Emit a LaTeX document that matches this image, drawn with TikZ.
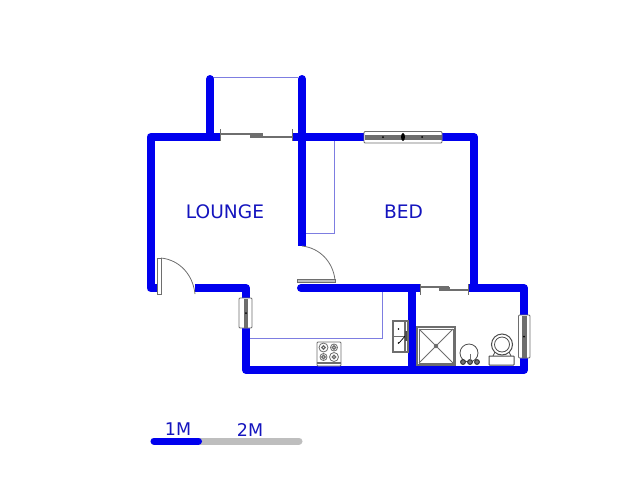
\documentclass[tikz,border=0pt]{standalone}
\usepackage{fontspec}
\setmainfont{DejaVu Sans}
\definecolor{wallblue}{RGB}{0,0,238}
\definecolor{inkblue}{RGB}{20,20,190}
\definecolor{thinblue}{RGB}{125,125,225}
\definecolor{fitgrey}{RGB}{110,110,110}
\definecolor{bargrey}{RGB}{190,190,190}
\begin{document}
\begin{tikzpicture}[x=1pt, y=-1pt,
    wall/.style={draw=wallblue, line width=8pt, line cap=round, line join=round},
    thin/.style={draw=thinblue, line width=0.8pt},
    fit/.style={draw=fitgrey, line width=0.8pt},
    label/.style={text=inkblue, font=\fontsize{18.6}{20}\selectfont, inner sep=0pt},
    barlabel/.style={text=inkblue, font=\fontsize{17.5}{20}\selectfont, inner sep=0pt}]
      \useasboundingbox (0, 0) rectangle (640, 480);

      % thin lines under the walls
      \draw [thin] (213, 77) -- (298, 77);
      \draw [thin] (334, 141) -- (334, 233) -- (306, 233);
      \draw [thin] (250, 338) -- (382, 338) -- (382, 292);

      % walls
      \draw [wall] (210, 79) -- (210, 137);
      \draw [wall, line cap=butt] (158, 288) -- (150.5, 288) -- (150.5, 137) -- (220, 137);
      \draw [wall, line cap=butt] (292, 137) -- (364, 137);
      \draw [wall, line cap=butt] (442, 137) -- (474, 137) -- (474, 288);
      \draw [wall] (302, 79) -- (302, 137);
      \draw [wall, line cap=butt] (302, 137) -- (302, 246);
      \draw [wall, line cap=butt] (195, 288) -- (246, 288) -- (246, 298);
      \draw [wall] (301, 288) -- (340, 288);
      \draw [wall, line cap=butt] (340, 288) -- (420, 288);
      \draw [wall, line cap=butt] (412, 288) -- (412, 370);
      \draw [wall, line cap=butt] (468, 288) -- (524, 288) -- (524, 316);
      \draw [wall, line cap=butt] (246, 328) -- (246, 370) -- (524, 370) -- (524, 358);

      % sliding doors
      \draw [fit, line width=2pt] (220, 134) -- (262, 134);
      \draw [fit, line width=2pt] (250, 137) -- (292, 137);
      \draw [fit, fill=fitgrey] (250, 133.5) rectangle (262, 137.5);
      \draw [fit] (220, 129) -- (220, 141);
      \draw [fit] (292, 129) -- (292, 141);
      \draw [fit, line width=2pt] (420, 287) -- (449, 287);
      \draw [fit, line width=2pt] (439, 290) -- (468, 290);
      \draw [fit, fill=fitgrey] (439, 287) rectangle (449, 290);
      \draw [fit] (420, 284) -- (420, 295);
      \draw [fit] (468, 284) -- (468, 295);

      % swing doors
      \draw [fit, fill=white] (157, 258) rectangle (161, 294);
      \draw [fit] (161, 258) .. controls (180, 260) and (193, 275) .. (195, 294);
      \draw [fit, fill=bargrey] (297, 279.5) rectangle (335, 282.5);
      \draw [fit] (302, 246) .. controls (320, 248) and (333, 262) .. (335, 280);

      % windows
      \draw [fit, fill=white, rounded corners=1pt] (364, 131.5) rectangle (442, 143);
      \fill [fitgrey] (364.5, 135) rectangle (441.5, 139.5);
      \fill (403, 137) ellipse (2 and 4);
      \fill (383, 137) circle (1);
      \fill (422, 137) circle (1);
      \draw [fit, fill=white, rounded corners=1pt] (239, 298) rectangle (252, 328);
      \fill [fitgrey] (243.5, 298.5) rectangle (248, 327.5);
      \fill (246, 313) circle (1);
      \draw [fit, fill=white, rounded corners=1pt] (518.5, 315) rectangle (530, 358);
      \fill [fitgrey] (522, 315.5) rectangle (526.5, 357.5);
      \fill (524, 336.5) circle (1);

      % stove
      \draw [fit, fill=white, rounded corners=1pt] (317, 342) rectangle (341, 366);
      \draw [fit, line width=1.2pt] (317, 363) -- (341, 363);
      \foreach \bx/\by/\br in {323.5/347.5/4.5, 334/347.5/3.5, 323.5/357/3.5, 334/357/4.5} {
        \draw [fit] (\bx, \by) circle (\br);
        \draw [fit, line width=1.2pt] (\bx, \by) circle (1.8);
      }

      % sink
      \draw [fit, line width=1.1pt, fill=white] (393, 321) rectangle (408, 352);
      \draw [fit, line width=1.1pt] (393, 336.5) -- (405, 336.5);
      \draw [fit, line width=1.1pt] (405, 321) -- (405, 352);
      \fill (398.5, 329) circle (0.9);
      \fill (398.5, 343) circle (0.9);
      \draw [line width=0.7pt] (399, 343) -- (406, 335);
      \fill [black!70] (404.5, 331) rectangle (407, 341);

      % shower
      \draw [fit, line width=1.2pt] (417, 327) rectangle (455, 365);
      \draw [fit] (419, 329) rectangle (453, 363);
      \draw [fit] (419, 329) -- (453, 363);
      \draw [fit] (453, 329) -- (419, 363);
      \draw [fit, fill=black!60] (436, 346) circle (1.8);

      % basin
      \draw [fit, draw=black!70] (469, 353) circle (9);
      \foreach \tx in {463, 470, 477} {
        \draw [fit, draw=black!80, fill=black!55, line width=1pt] (\tx, 362) circle (2.4);
      }
      \draw [fit] (470, 354) -- (470, 360);

      % toilet
      \draw [fit, draw=black!70, line width=1pt] (502, 344.5) circle (10.5);
      \draw [fit, draw=black!70] (502, 344.5) circle (7.5);
      \draw [fit, draw=black!70] (495, 352) -- (493, 356);
      \draw [fit, draw=black!70] (509, 352) -- (511, 356);
      \draw [fit, draw=black!70, fill=white, rounded corners=0.5pt, line width=1pt] (489, 356) rectangle (514, 365);

      % scale bar
      \draw [line width=7pt, line cap=round, draw=bargrey] (154, 441) -- (299, 441);
      \draw [line width=7pt, line cap=round, draw=wallblue] (154, 441) -- (198.5, 441);

      \node [label] (lounge) at (225, 212) {LOUNGE};
      \node [label] (bed) at (403.5, 211.5) {BED};
      \node [barlabel] (onem) at (178, 429.5) {1M};
      \node [barlabel] (twom) at (250, 429.5) {2M};
    \end{tikzpicture}
\end{document}
